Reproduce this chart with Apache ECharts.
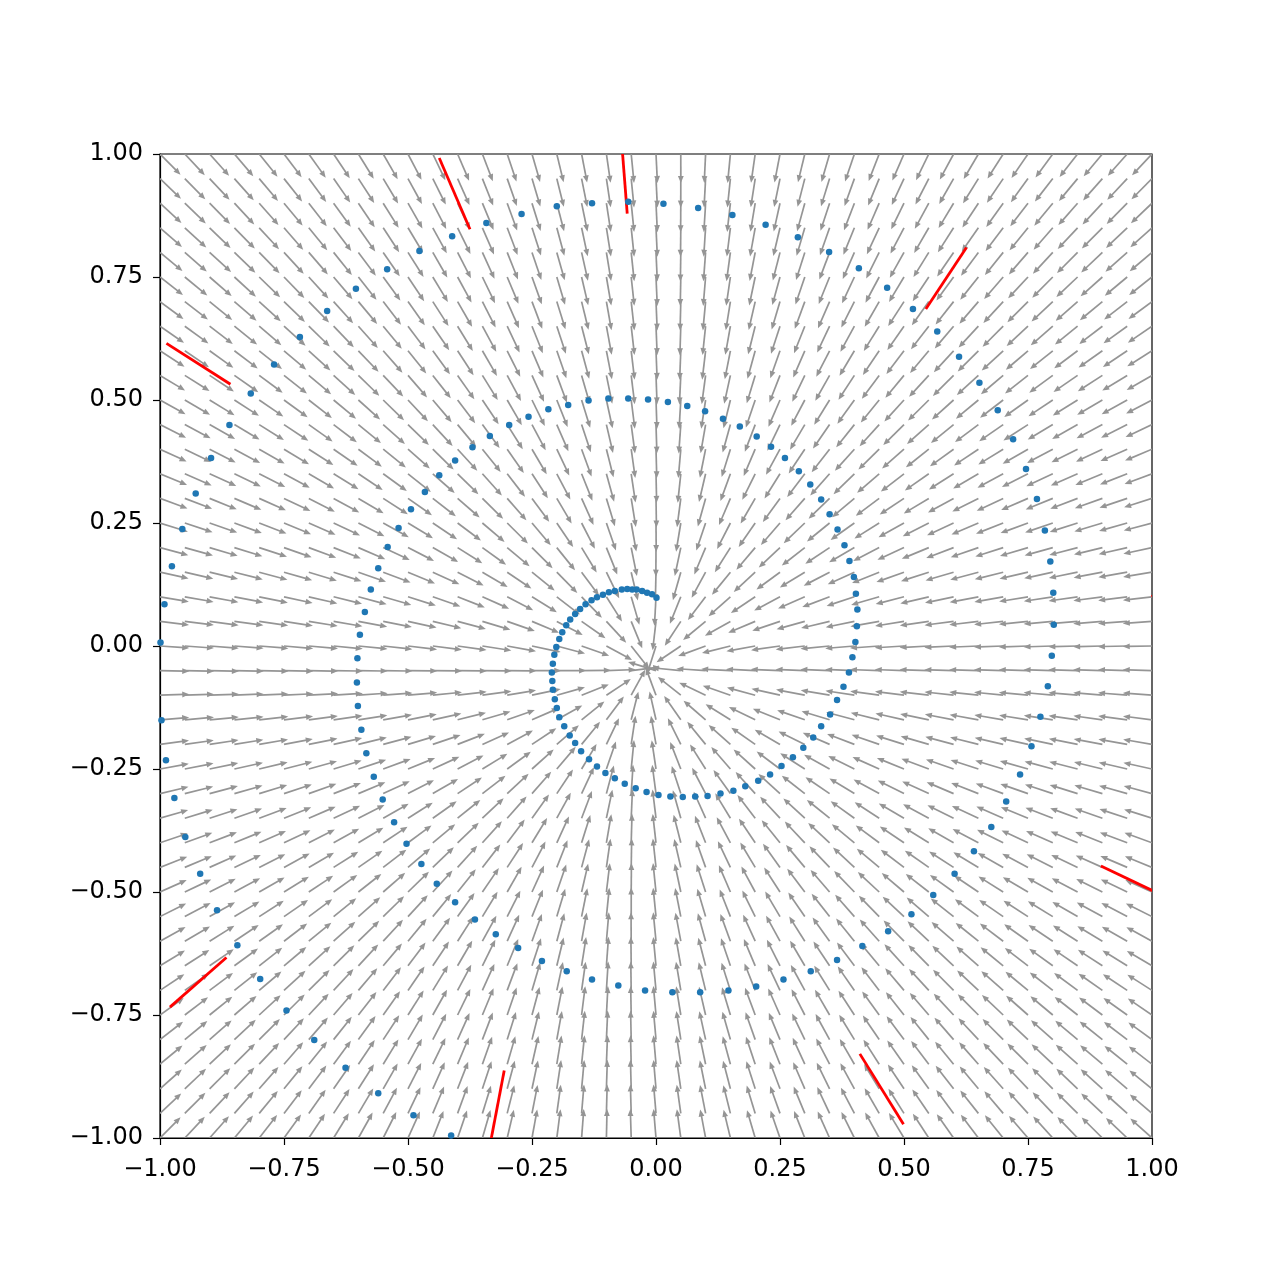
<!DOCTYPE html>
<html><head><meta charset="utf-8">
<script src="https://cdn.jsdelivr.net/npm/echarts@6/dist/echarts.min.js"></script>
<style>html,body{margin:0;padding:0;background:#fff}#c{width:1280px;height:1280px}</style>
</head><body><div id="c"></div>
<script>
// ---- data ----
const tickValues = [-1.00,-0.75,-0.50,-0.25,0.00,0.25,0.50,0.75,1.00];
const fieldGrid = [-1.00,-0.95,-0.90,-0.85,-0.80,-0.75,-0.70,-0.65,-0.60,-0.55,-0.50,-0.45,-0.40,-0.35,-0.30,-0.25,-0.20,-0.15,-0.10,-0.05,0.00,0.05,0.10,0.15,0.20,0.25,0.30,0.35,0.40,0.45,0.50,0.55,0.60,0.65,0.70,0.75,0.80,0.85,0.90,0.95,1.00];
const fieldSink = [-0.017, -0.045];
const fieldShear = [[1, -0.065], [-0.025, 1]];

const spiralX = [0.001,-0.008,-0.018,-0.028,-0.039,-0.048,-0.058,-0.069,-0.083,-0.095,-0.107,-0.119,-0.130,-0.142,-0.153,-0.163,-0.173,-0.181,-0.189,-0.195,-0.201,-0.205,-0.208,-0.210,-0.209,-0.208,-0.204,-0.200,-0.195,-0.185,-0.174,-0.163,-0.151,-0.135,-0.119,-0.102,-0.083,-0.063,-0.041,-0.019,0.005,0.029,0.054,0.079,0.104,0.130,0.156,0.180,0.206,0.230,0.253,0.276,0.297,0.317,0.333,0.351,0.365,0.378,0.389,0.396,0.402,0.405,0.406,0.403,0.399,0.390,0.380,0.366,0.350,0.333,0.311,0.288,0.260,0.232,0.203,0.169,0.135,0.099,0.063,0.024,-0.016,-0.056,-0.096,-0.136,-0.177,-0.217,-0.257,-0.296,-0.335,-0.370,-0.405,-0.437,-0.466,-0.494,-0.519,-0.541,-0.560,-0.575,-0.587,-0.597,-0.602,-0.603,-0.601,-0.594,-0.584,-0.569,-0.551,-0.528,-0.503,-0.473,-0.442,-0.405,-0.365,-0.323,-0.278,-0.230,-0.180,-0.129,-0.076,-0.022,0.033,0.089,0.146,0.202,0.257,0.312,0.365,0.416,0.468,0.515,0.559,0.602,0.641,0.676,0.706,0.734,0.757,0.775,0.790,0.798,0.802,0.801,0.795,0.784,0.768,0.746,0.720,0.689,0.652,0.611,0.567,0.518,0.466,0.409,0.349,0.286,0.221,0.154,0.085,0.015,-0.056,-0.129,-0.200,-0.271,-0.342,-0.411,-0.477,-0.542,-0.605,-0.663,-0.718,-0.770,-0.817,-0.860,-0.897,-0.928,-0.955,-0.976,-0.991,-0.999,-1.003,-0.997,-0.988,-0.971,-0.949,-0.919,-0.885,-0.844,-0.798,-0.745,-0.689,-0.626,-0.560,-0.489,-0.413];
const spiralY = [0.098,0.105,0.108,0.112,0.115,0.115,0.116,0.115,0.112,0.109,0.104,0.099,0.093,0.085,0.075,0.065,0.054,0.042,0.028,0.014,-0.002,-0.018,-0.036,-0.054,-0.071,-0.089,-0.108,-0.126,-0.145,-0.163,-0.182,-0.197,-0.214,-0.230,-0.245,-0.258,-0.269,-0.280,-0.289,-0.297,-0.303,-0.306,-0.307,-0.306,-0.305,-0.300,-0.294,-0.285,-0.274,-0.261,-0.244,-0.226,-0.207,-0.186,-0.163,-0.139,-0.110,-0.083,-0.054,-0.023,0.008,0.040,0.074,0.106,0.140,0.173,0.205,0.237,0.268,0.298,0.328,0.355,0.382,0.405,0.426,0.446,0.462,0.477,0.488,0.496,0.501,0.503,0.503,0.499,0.490,0.481,0.466,0.449,0.427,0.404,0.377,0.347,0.313,0.278,0.240,0.201,0.158,0.115,0.069,0.023,-0.025,-0.074,-0.122,-0.170,-0.218,-0.266,-0.312,-0.358,-0.402,-0.443,-0.483,-0.521,-0.556,-0.586,-0.614,-0.640,-0.661,-0.678,-0.690,-0.700,-0.704,-0.704,-0.700,-0.692,-0.678,-0.661,-0.638,-0.610,-0.580,-0.545,-0.506,-0.463,-0.417,-0.368,-0.316,-0.261,-0.204,-0.144,-0.082,-0.020,0.043,0.108,0.172,0.235,0.299,0.360,0.420,0.479,0.535,0.588,0.639,0.685,0.728,0.768,0.801,0.831,0.856,0.876,0.890,0.899,0.903,0.900,0.894,0.878,0.860,0.833,0.803,0.766,0.726,0.681,0.628,0.572,0.513,0.449,0.382,0.310,0.238,0.162,0.085,0.007,-0.073,-0.151,-0.232,-0.309,-0.388,-0.463,-0.537,-0.608,-0.677,-0.741,-0.801,-0.857,-0.909,-0.954,-0.995];

const redX1 = [-0.437,-0.070,0.544,-0.987,0.999,0.897,-0.980,0.411,-0.306];
const redY1 = [0.992,1.034,0.685,0.615,0.100,-0.447,-0.734,-0.829,-0.863];
const redX2 = [-0.375,-0.058,0.626,-0.858,1.120,1.036,-0.866,0.499,-0.335];
const redY2 = [0.847,0.879,0.810,0.532,0.160,-0.514,-0.633,-0.972,-1.016];

// ---- build ----
const arrowData = [];
for (const gx of fieldGrid) {
  for (const gy of fieldGrid) {
    const dx = fieldSink[0] - gx, dy = fieldSink[1] - gy;
    let vx = fieldShear[0][0]*dx + fieldShear[0][1]*dy;
    let vy = fieldShear[1][0]*dx + fieldShear[1][1]*dy;
    const n = Math.hypot(vx, vy) || 1;
    arrowData.push([gx, gy, vx/n, vy/n]);
  }
}
const spiralData = [];
for (let i = 0; i < Math.min(spiralX.length, spiralY.length); i++) spiralData.push([spiralX[i], spiralY[i]]);
const redData = redX1.map((v, i) => [v, redY1[i], redX2[i], redY2[i]]);

const ARROW_LEN = 0.059;
const GRAY = '#959595';

const fmt = v => (v < 0 ? '\u2212' : '') + Math.abs(v).toFixed(2);
const axisCommon = {
  type: 'value', min: -1, max: 1, interval: 0.25,
  axisLine: { show: true, onZero: false, lineStyle: { color: '#000', width: 1.2 } },
  axisTick: { show: true, inside: false, length: 7, lineStyle: { color: '#000', width: 1.2 } },
  splitLine: { show: false },
  axisLabel: { formatter: fmt, color: '#000', fontFamily: 'DejaVu Sans', fontSize: 24 }
};

const chart = echarts.init(document.getElementById('c'), null, { renderer: 'canvas' });
chart.setOption({
  animation: false,
  backgroundColor: '#fff',
  grid: { left: 160, right: 128, top: 154, bottom: 142, show: true, borderColor: '#000', borderWidth: 1.2, backgroundColor: 'transparent' },
  xAxis: Object.assign({}, axisCommon, { axisLabel: Object.assign({}, axisCommon.axisLabel, { margin: 20 }) }),
  yAxis: Object.assign({}, axisCommon, { axisLabel: Object.assign({}, axisCommon.axisLabel, { margin: 17 }) }),
  series: [
    {
      type: 'custom', clip: true, z: 1,
      data: arrowData,
      renderItem: function (params, api) {
        const x = api.value(0), y = api.value(1), ux = api.value(2), uy = api.value(3);
        const p0 = api.coord([x, y]);
        const p1 = api.coord([x + ARROW_LEN*ux, y + ARROW_LEN*uy]);
        const ddx = p1[0]-p0[0], ddy = p1[1]-p0[1];
        const L = Math.hypot(ddx, ddy) || 1;
        const ex = ddx/L, ey = ddy/L;
        const hl = 7, hw = 2.9;
        const bx = p1[0] - ex*hl, by = p1[1] - ey*hl;
        return {
          type: 'group',
          children: [
            { type: 'line', shape: { x1: p0[0], y1: p0[1], x2: bx + ex*2, y2: by + ey*2 }, style: { stroke: GRAY, lineWidth: 1.7 } },
            { type: 'polygon', shape: { points: [[p1[0], p1[1]], [bx - ey*hw, by + ex*hw], [bx + ey*hw, by - ex*hw]] }, style: { fill: GRAY } }
          ]
        };
      }
    },
    {
      type: 'custom', clip: true, z: 2,
      data: redData,
      renderItem: function (params, api) {
        const a = api.coord([api.value(0), api.value(1)]);
        const b = api.coord([api.value(2), api.value(3)]);
        return { type: 'line', shape: { x1: a[0], y1: a[1], x2: b[0], y2: b[1] }, style: { stroke: '#ff0000', lineWidth: 2.8 } };
      }
    },
    {
      type: 'scatter', z: 3, clip: true,
      data: spiralData,
      symbol: 'circle', symbolSize: 6.5,
      itemStyle: { color: '#1f77b4', opacity: 1 }
    }
  ]
});
</script>
</body></html>
